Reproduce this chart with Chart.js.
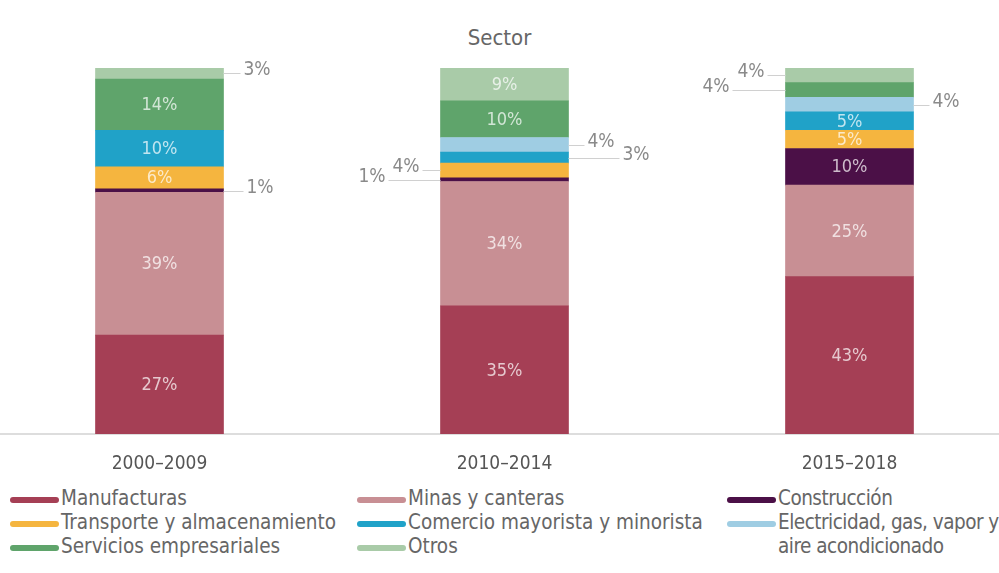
<!DOCTYPE html>
<html>
<head>
<meta charset="utf-8">
<script src="https://cdn.jsdelivr.net/npm/chart.js@4.4.1/dist/chart.umd.min.js"></script>
<style>
  html, body { margin: 0; padding: 0; background: #ffffff; }
  #frame {
    position: relative; width: 999px; height: 573px; overflow: hidden;
    font-family: "DejaVu Sans Condensed", "Liberation Sans Narrow", Roboto, sans-serif;
  }
  #subtitle {
    position: absolute; left: 0; top: 26px; width: 999px;
    text-align: center; font-size: 22px; line-height: 24px; color: #666666;
  }
  #plot { position: absolute; left: -13px; top: 0; }
  #legend {
    position: absolute; left: 10px; top: 486px;
    display: grid; grid-template-columns: 347px 370px 300px;
    font-size: 20.5px; line-height: 24px; color: #666666;
  }
  .item { display: flex; align-items: flex-start; height: 24px; }
  .swatch { flex: none; width: 49px; height: 6px; border-radius: 3px; margin: 11px 2px 0 0; }
  .name { white-space: nowrap; }
  .name.wrap { white-space: normal; width: 250px; letter-spacing: -0.5px; }
</style>
</head>
<body>
<div id="frame">
  <div id="subtitle">Sector</div>
  <canvas id="plot" width="1035" height="474"></canvas>
  <div id="legend"></div>
</div>
<script>
// Periods on the x axis
const categories = ['2000–2009', '2010–2014', '2015–2018'];

// Share of each sector per period (%), stacked bottom to top
const manufacturas = [27, 35, 43];
const minas        = [39, 34, 25];
const construccion = [1, 1, 10];
const transporte   = [6, 4, 5];
const comercio     = [10, 3, 5];
const electricidad = [0, 4, 4];
const servicios    = [14, 10, 4];
const otros        = [3, 9, 4];

const seriesNames = [
  'Manufacturas', 'Minas y canteras', 'Construcción',
  'Transporte y almacenamiento', 'Comercio mayorista y minorista',
  'Electricidad, gas, vapor y aire acondicionado',
  'Servicios empresariales', 'Otros'
];
const seriesValues = [manufacturas, minas, construccion, transporte, comercio, electricidad, servicios, otros];
const seriesColors = ['#a53f55', '#c88f94', '#4b1047', '#f5b53f', '#20a2c8', '#9fcde3', '#5fa46b', '#a9cba8'];

// Thin segments get their value written beside the bar, joined by a leader line
const callouts = [
  { series: 7, cat: 0, side: 'right', reach: 17 },
  { series: 2, cat: 0, side: 'right', reach: 20 },
  { series: 5, cat: 1, side: 'right', reach: 16 },
  { series: 4, cat: 1, side: 'right', reach: 51 },
  { series: 3, cat: 1, side: 'left',  reach: 18 },
  { series: 2, cat: 1, side: 'left',  reach: 52 },
  { series: 7, cat: 2, side: 'left',  reach: 18 },
  { series: 6, cat: 2, side: 'left',  reach: 53 },
  { series: 5, cat: 2, side: 'right', reach: 16 }
];

const FAMILY = '"DejaVu Sans Condensed", "Liberation Sans Narrow", Roboto, sans-serif';

function tint(hex, amount) {
  const n = parseInt(hex.slice(1), 16);
  const r = (n >> 16) & 255, g = (n >> 8) & 255, b = n & 255;
  const mix = c => Math.round(c + (255 - c) * amount);
  return `rgb(${mix(r)},${mix(g)},${mix(b)})`;
}

const segmentLabels = {
  id: 'segmentLabels',
  afterDatasetsDraw(chart) {
    const ctx = chart.ctx;
    ctx.save();
    chart.data.datasets.forEach((ds, di) => {
      const meta = chart.getDatasetMeta(di);
      meta.data.forEach((bar, j) => {
        const v = ds.data[j];
        if (!v) return;
        const p = bar.getProps(['x', 'y', 'base', 'width'], true);
        const cy = (p.y + p.base) / 2;
        const text = v + '%';
        const c = callouts.find(o => o.series === di && o.cat === j);
        if (!c) {
          ctx.font = '18px ' + FAMILY;
          ctx.fillStyle = tint(seriesColors[di], 0.72);
          ctx.textAlign = 'center';
          ctx.textBaseline = 'middle';
          ctx.fillText(text, p.x, cy + 1);
          return;
        }
        const dir = c.side === 'right' ? 1 : -1;
        const edge = p.x + dir * p.width / 2;
        const end = edge + dir * c.reach;
        const ly = Math.round(cy) + 0.5;
        ctx.strokeStyle = '#d0d0d0';
        ctx.lineWidth = 1;
        ctx.beginPath();
        ctx.moveTo(edge, ly);
        ctx.lineTo(end, ly);
        ctx.stroke();
        ctx.font = '19px ' + FAMILY;
        ctx.fillStyle = '#8a8a8a';
        ctx.textAlign = dir > 0 ? 'left' : 'right';
        ctx.textBaseline = 'alphabetic';
        ctx.fillText(text, end + dir * 3, ly + 1);
      });
    });
    ctx.restore();
  }
};

const chart = new Chart(document.getElementById('plot'), {
  type: 'bar',
  data: {
    labels: categories,
    datasets: seriesNames.map((name, i) => ({
      label: name,
      data: seriesValues[i],
      backgroundColor: seriesColors[i],
      borderWidth: 0,
      barThickness: 128
    }))
  },
  options: {
    responsive: false,
    animation: false,
    layout: { padding: { top: 68, left: 0, right: 0, bottom: 0 } },
    plugins: { legend: { display: false }, tooltip: { enabled: false }, title: { display: false } },
    scales: {
      x: {
        stacked: true,
        grid: { display: false, drawTicks: false },
        border: { display: true, color: '#dddddd', width: 2 },
        ticks: { color: '#555555', padding: 19, font: { family: FAMILY, size: 19 } },
        afterFit(scale) { scale.height = 40; }
      },
      y: { stacked: true, display: false, min: 0, max: 100 }
    }
  },
  plugins: [segmentLabels]
});

// Legend: three columns, filled row by row; the last column may wrap
const legend = document.getElementById('legend');
chart.data.datasets.forEach((ds, i) => {
  const item = document.createElement('div');
  item.className = 'item';
  const sw = document.createElement('span');
  sw.className = 'swatch';
  sw.style.background = ds.backgroundColor;
  const name = document.createElement('span');
  name.className = i % 3 === 2 ? 'name wrap' : 'name';
  name.textContent = ds.label;
  item.appendChild(sw);
  item.appendChild(name);
  legend.appendChild(item);
});
</script>
</body>
</html>
